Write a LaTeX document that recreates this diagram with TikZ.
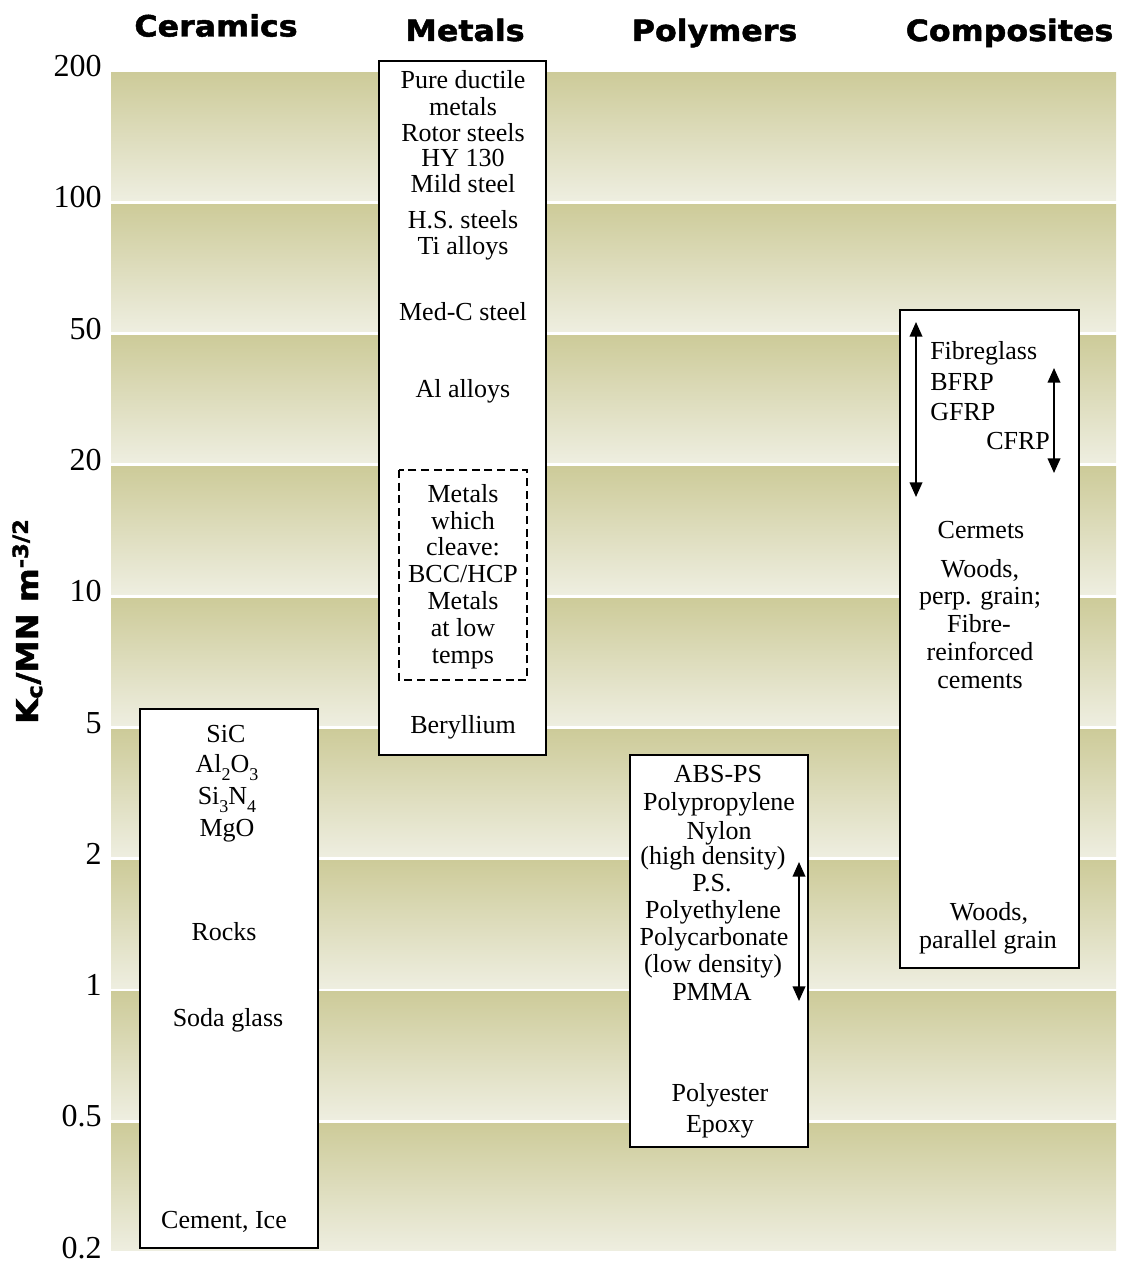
\documentclass[tikz,border=0pt]{standalone}
\usepackage{fontspec}
\setmainfont{Liberation Serif}
\newfontfamily\headfont[FakeStretch=1.08, FakeBold=1.6]{DejaVu Sans Bold}
\usetikzlibrary{arrows.meta}
\definecolor{bandtop}{RGB}{205,203,153}
\definecolor{bandbot}{RGB}{238,238,224}
\newcommand{\lowidx}[1]{\raisebox{-0.32em}{\fontsize{13.5}{14}\selectfont #1}}

\begin{document}
\begin{tikzpicture}[x=0.75pt,y=-0.75pt,
    txt/.style={font=\fontsize{19.5}{21}\selectfont, inner sep=0pt, anchor=base},
    head/.style={font=\headfont\fontsize{22}{24}\selectfont, inner sep=0pt, anchor=base},
    tick/.style={font=\fontsize{24}{26}\selectfont, inner sep=0pt, anchor=base east},
    classbox/.style={draw, line width=1.5pt, fill=white},
    spanarrow/.style={{Triangle[length=11pt,width=9.5pt]}-{Triangle[length=11pt,width=9.5pt]}, line width=1.3pt}]
    \useasboundingbox (0,0) rectangle (1123,1263);
    % shaded bands, one per decade step
    \foreach \i in {0,...,8}
        \shade[top color=bandtop, bottom color=bandbot] (111,72.8+131.3*\i) rectangle (1116,200.3+131.3*\i);
    % axis
    \foreach \v [count=\i from 0] in {200,100,50,20,10,5,2,1,0.5,0.2}
        \node[tick] (tick\i) at (102,76.5+131.3*\i) {\v};
    \node[head, font=\headfont\fontsize{22.5}{24}\selectfont, rotate=90, anchor=base west] (ylabel) at (38,724) {K\textsubscript{c}/MN m\textsuperscript{-3/2}};
    % headings
    \node[head] (hcer) at (216,36.5) {Ceramics};
    \node[head] (hmet) at (465,41) {Metals};
    \node[head] (hpol) at (714.5,41) {Polymers};
    \node[head] (hcom) at (1009.5,41) {Composites};
    % ceramics
    \draw[classbox] (140,709) rectangle (318,1248);
    \foreach \t/\x/\y [count=\i] in {SiC/226/742, Al\lowidx{2}O\lowidx{3}/227/772,
        Si\lowidx{3}N\lowidx{4}/227/804, MgO/227/836, Rocks/224/940,
        Soda glass/228/1026, {Cement, Ice}/224/1228}
        \node[txt] (cer\i) at (\x,\y) {\t};
    % metals
    \draw[classbox] (379,61) rectangle (546,755);
    \draw[line width=1.2pt, dash pattern=on 6pt off 3.5pt] (399,470) rectangle (527,680);
    \foreach \t/\y [count=\i] in {Pure ductile/89, metals/115, Rotor steels/141, HY 130/166.5,
        Mild steel/192, H.S. steels/228, Ti alloys/254.5, Med-C steel/320.5, Al alloys/397,
        Metals/502.5, which/529, cleave:/555.5, {BCC/HCP}/582.5, Metals/609.5, at low/636,
        temps/663, Beryllium/733}
        \node[txt] (met\i) at (463,\y) {\t};
    % polymers
    \draw[classbox] (630,755) rectangle (808,1147);
    \foreach \t/\x/\y [count=\i] in {ABS-PS/718/782, Polypropylene/719/810.5, Nylon/719/839,
        (high density)/713/864, P.S./712/891.5, Polyethylene/713/918.5, Polycarbonate/714/945,
        (low density)/713/972, PMMA/712/1000, Polyester/720/1101, Epoxy/720/1132}
        \node[txt] (pol\i) at (\x,\y) {\t};
    \coordinate (pa) at (799,862);
    \coordinate (pb) at (799,1001);
    \draw[spanarrow] (pa) -- (pb);
    % composites
    \draw[classbox] (900,310) rectangle (1079,968);
    \node[txt, anchor=base west] (com1) at (930,359.5) {Fibreglass};
    \node[txt, anchor=base west] (com2) at (930,390.5) {BFRP};
    \node[txt, anchor=base west] (com3) at (930,420) {GFRP};
    \node[txt, anchor=base west] (com4) at (986,449.5) {CFRP};
    \foreach \t/\x/\y [count=\i from 5] in {Cermets/981/538, {Woods,}/980/577,
        perp. grain;/980/604, Fibre-/979/632, reinforced/980/660, cements/980/688,
        {Woods,}/989/920, parallel grain/988/948}
        \node[txt] (com\i) at (\x,\y) {\t};
    \coordinate (ca) at (916,322);
    \coordinate (cb) at (916,497);
    \coordinate (cc) at (1054,368);
    \coordinate (cd) at (1054,473);
    \draw[spanarrow] (ca) -- (cb);
    \draw[spanarrow] (cc) -- (cd);
\end{tikzpicture}
\end{document}
